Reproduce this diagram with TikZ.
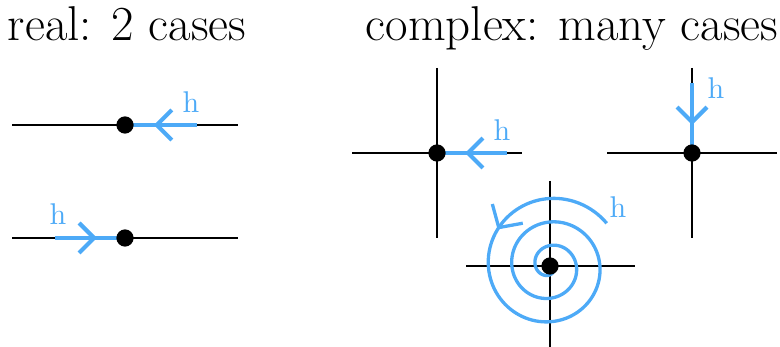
\documentclass[tikz,border=0pt]{standalone}
\usetikzlibrary{arrows.meta,decorations.markings}
\definecolor{hblue}{RGB}{77,170,247}
\tikzset{
  axis/.style={line width=0.7pt},
  flow/.style={hblue,line width=1.4pt},
  flowarrow/.style={postaction={decorate,decoration={markings,
      mark=at position #1 with {\arrow{Straight Barb[length=5pt,width=10pt]}}}}},
  spiralarrow/.style={postaction={decorate,decoration={markings,
      mark=at position #1 with {\arrow{Straight Barb[length=5.5pt,width=12pt]}}}}},
  hlabel/.style={text=hblue},
  title/.style={anchor=base,font=\fontsize{16.3}{19}\selectfont},
}
\begin{document}
\begin{tikzpicture}[x=0.3333pt,y=-0.3333pt]
  \useasboundingbox (0,0) rectangle (780,347);
  \node[title] (realtitle) at (127,41) {real: 2 cases};
  \node[title] (complextitle) at (572,41) {complex: many cases};
  % real line, flow towards the point from the right
  \coordinate (r1) at (125,125);
  \draw[axis] (12,125) -- (238,125);
  \coordinate (r1s) at (197,125);
  \draw[flow,flowarrow=0.6] (r1s) -- (r1);
  \draw[fill=black] (r1) circle[radius=8];
  \node[hlabel] (h1) at (191,102) {h};
  % real line, flow towards the point from the left
  \coordinate (r2) at (125,238);
  \draw[axis] (12,238) -- (238,238);
  \coordinate (r2s) at (55,238);
  \draw[flow,flowarrow=0.6] (r2s) -- (r2);
  \draw[fill=black] (r2) circle[radius=8];
  \node[hlabel] (h2) at (58,214) {h};
  % complex plane, from the right
  \coordinate (c1) at (437,153);
  \draw[axis] (352,153) -- (522,153);
  \draw[axis] (437,68) -- (437,238);
  \coordinate (c1s) at (507,153);
  \draw[flow,flowarrow=0.6] (c1s) -- (c1);
  \draw[fill=black] (c1) circle[radius=8];
  \node[hlabel] (h3) at (502,130) {h};
  % complex plane, from above
  \coordinate (c2) at (692,153);
  \draw[axis] (607,153) -- (777,153);
  \draw[axis] (692,68) -- (692,238);
  \coordinate (c2s) at (692,83);
  \draw[flow,flowarrow=0.6] (c2s) -- (c2);
  \draw[fill=black] (c2) circle[radius=8];
  \node[hlabel] (h4) at (716,88) {h};
  % complex plane, spiralling in
  \coordinate (c3) at (550,266);
  \draw[axis] (466,266) -- (635,266);
  \draw[axis] (550,181) -- (550,347);
  \draw[flow,line width=1.1pt,spiralarrow=42.5pt] plot[domain=37:1090,samples=300]
    ({550+(71-(\x-37)*0.0653)*cos(\x)},{266-(71-(\x-37)*0.0653)*sin(\x)});
  \draw[fill=black] (c3) circle[radius=8];
  \node[hlabel] (h5) at (618,207) {h};
\end{tikzpicture}
\end{document}
